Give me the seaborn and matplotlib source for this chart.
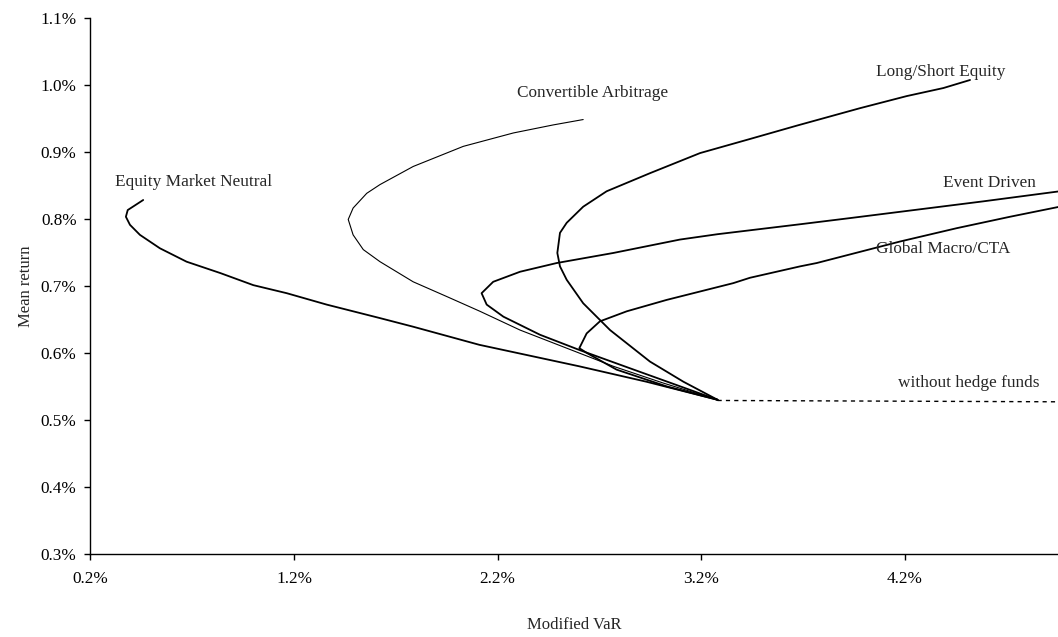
import matplotlib
matplotlib.use("Agg")
import matplotlib.pyplot as plt
import matplotlib.ticker as mticker
import seaborn as sns
import pandas as pd

# mean-VaR frontiers (values in %), each traced from the common starting portfolio outward
emn_var = [3.28, 2.93, 2.60, 2.11, 1.785, 1.62, 1.36, 1.164, 1.0, 0.838, 0.672, 0.541,
           0.443, 0.394, 0.374, 0.383, 0.459]
emn_ret = [0.530, 0.557, 0.580, 0.612, 0.639, 0.652, 0.672, 0.689, 0.701, 0.719, 0.736, 0.756,
           0.776, 0.791, 0.803, 0.813, 0.828]

ca_var = [3.28, 3.013, 2.768, 2.522, 2.31, 2.113, 1.95, 1.785, 1.622, 1.54, 1.49, 1.466,
          1.49, 1.557, 1.622, 1.785, 2.031, 2.277, 2.473, 2.62]
ca_ret = [0.530, 0.555, 0.580, 0.609, 0.634, 0.662, 0.684, 0.706, 0.736, 0.754, 0.776, 0.799,
          0.816, 0.838, 0.851, 0.878, 0.908, 0.928, 0.940, 0.948]

ed_var = [3.28, 2.85, 2.604, 2.408, 2.228, 2.146, 2.121, 2.178, 2.31, 2.49, 2.768, 3.095,
          3.28, 3.69, 3.93, 4.585, 4.96]
ed_ret = [0.530, 0.577, 0.604, 0.627, 0.654, 0.672, 0.689, 0.706, 0.721, 0.734, 0.749, 0.769,
          0.777, 0.792, 0.801, 0.826, 0.841]

ls_var = [3.28, 3.112, 2.948, 2.752, 2.62, 2.539, 2.506, 2.493, 2.506, 2.539, 2.62, 2.735,
          2.948, 3.194, 3.439, 3.67, 3.98, 4.209, 4.389, 4.52]
ls_ret = [0.530, 0.557, 0.587, 0.634, 0.674, 0.709, 0.729, 0.749, 0.779, 0.794, 0.818, 0.841,
          0.868, 0.898, 0.919, 0.939, 0.965, 0.983, 0.995, 1.007]

gm_var = [3.28, 3.03, 2.784, 2.637, 2.601, 2.637, 2.702, 2.834, 3.03, 3.357, 3.439, 3.685,
          3.767, 4.175, 4.455, 4.716, 4.96]
gm_ret = [0.530, 0.550, 0.575, 0.600, 0.607, 0.629, 0.647, 0.662, 0.679, 0.704, 0.712, 0.729,
          0.734, 0.766, 0.786, 0.803, 0.818]

base_var = [3.28, 4.96]
base_ret = [0.529, 0.527]

x_ticks = [0.2, 1.2, 2.2, 3.2, 4.2]
y_ticks = [0.3, 0.4, 0.5, 0.6, 0.7, 0.8, 0.9, 1.0, 1.1]

sns.set_theme(style="white")
plt.rcParams["font.family"] = ["Liberation Serif", "DejaVu Serif"]
plt.rcParams["font.size"] = 12.4

fig = plt.figure(figsize=(10.58, 6.37), dpi=100)
ax = fig.add_axes([0.0855, 0.1303, 0.9145, 0.842])

curves = [
    (emn_var, emn_ret, 1.3),
    (ca_var, ca_ret, 0.8),
    (ed_var, ed_ret, 1.3),
    (ls_var, ls_ret, 1.3),
    (gm_var, gm_ret, 1.3),
]
for xs, ys, lw in curves:
    df = pd.DataFrame({"var": xs, "ret": ys})
    sns.lineplot(data=df, x="var", y="ret", sort=False, estimator=None,
                 color="black", linewidth=lw, ax=ax)

df = pd.DataFrame({"var": base_var, "ret": base_ret})
sns.lineplot(data=df, x="var", y="ret", sort=False, estimator=None,
             color="black", linewidth=1.0, ax=ax, dashes=False)
ax.lines[-1].set_linestyle((0, (3, 3)))

ax.text(0.32, 0.855, "Equity Market Neutral", ha="left", va="center")
ax.text(2.295, 0.988, "Convertible Arbitrage", ha="left", va="center")
ax.text(4.058, 1.019, "Long/Short Equity", ha="left", va="center")
ax.text(4.387, 0.854, "Event Driven", ha="left", va="center")
ax.text(4.058, 0.755, "Global Macro/CTA", ha="left", va="center")
ax.text(4.166, 0.555, "without hedge funds", ha="left", va="center")

ax.set_xlim(0.2, 4.952)
ax.set_ylim(0.3, 1.1)
ax.set_xticks(x_ticks)
ax.set_yticks(y_ticks)
ax.xaxis.set_major_formatter(mticker.FuncFormatter(lambda v, p: f"{v:.1f}%"))
ax.yaxis.set_major_formatter(mticker.FuncFormatter(lambda v, p: f"{v:.1f}%"))
ax.tick_params(axis="both", direction="out", length=4, width=1, colors="black",
               labelsize=12.4, left=True, bottom=True)
ax.tick_params(axis="x", pad=8)
ax.tick_params(axis="y", pad=6)

for side in ["top", "right"]:
    ax.spines[side].set_visible(False)
for side in ["left", "bottom"]:
    ax.spines[side].set_color("black")
    ax.spines[side].set_linewidth(1.0)

ax.set_xlabel("Modified VaR", labelpad=22)
ax.set_ylabel("Mean return", labelpad=5)
ax.grid(False)

fig.savefig("out.png", dpi=100)
